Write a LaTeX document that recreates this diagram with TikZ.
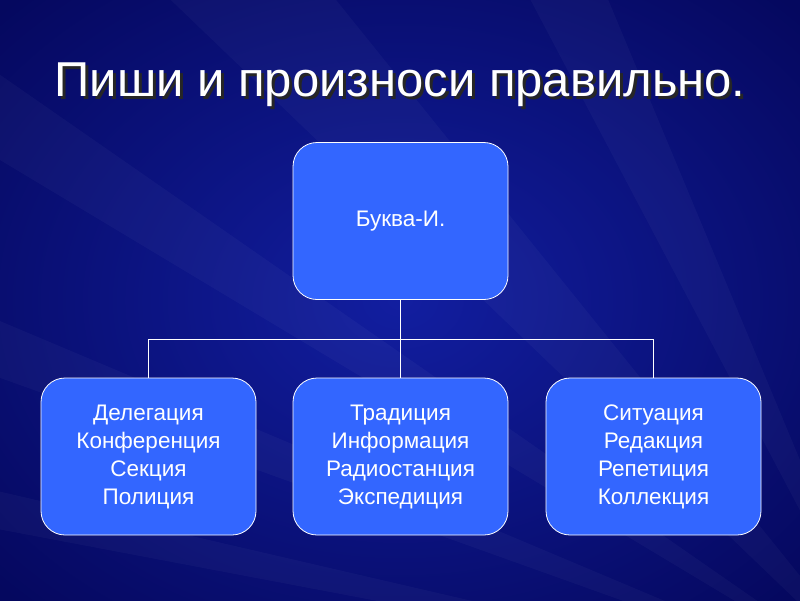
\documentclass[tikz,border=0pt]{standalone}
\usepackage{fontspec}
\setmainfont{Liberation Sans}
\definecolor{bgdark}{RGB}{5,8,95}
\definecolor{bgmid}{RGB}{18,30,160}
\definecolor{boxfill}{RGB}{51,102,255}
\tikzset{
  orgbox/.style={draw=white, line width=0.8pt, fill=boxfill, rounded corners=24pt,
    minimum width=215pt, minimum height=157pt, text=white, align=center,
    font=\fontsize{22.5}{28}\selectfont, inner sep=0pt},
  link/.style={draw=white, line width=1.5pt},
  ray/.style={fill=white, opacity=0.03}
}
\begin{document}
\begin{tikzpicture}[x=1pt,y=-1pt]
\useasboundingbox (0,0) rectangle (800,600);
\shade[inner color=bgmid, outer color=bgdark] (-150,-120) rectangle (950,720);
% faint rays
\fill[ray] (900,700) -- (-50,40) -- (-50,130) -- cycle;
\fill[ray] (900,700) -- (150,-20) -- (320,-20) -- cycle;
\fill[ray] (900,700) -- (-50,300) -- (-50,360) -- cycle;
\fill[ray] (900,700) -- (520,-20) -- (600,-20) -- cycle;
\fill[ray] (900,700) -- (850,150) -- (850,230) -- cycle;
\fill[ray] (900,700) -- (-50,480) -- (-50,520) -- cycle;
% title
\node[text=black!85, font=\fontsize{49}{59}\selectfont] at (403,88) {Пиши и произноси правильно.};
\node (title) [text=white, font=\fontsize{49}{59}\selectfont] at (400,85) {Пиши и произноси правильно.};
% boxes
\node (top) [orgbox] at (400.5,221) {Буква-И.};
\node (left) [orgbox] at (148.5,456.5) {Делегация\\Конференция\\Секция\\Полиция};
\node (mid) [orgbox] at (400.5,456.5) {Традиция\\Информация\\Радиостанция\\Экспедиция};
\node (right) [orgbox] at (653.5,456.5) {Ситуация\\Редакция\\Репетиция\\Коллекция};
% connectors
\draw[link] (top.south) -- (mid.north);
\draw[link] (left.north) -- ++(0,-38) -| (right.north);
\end{tikzpicture}
\end{document}
